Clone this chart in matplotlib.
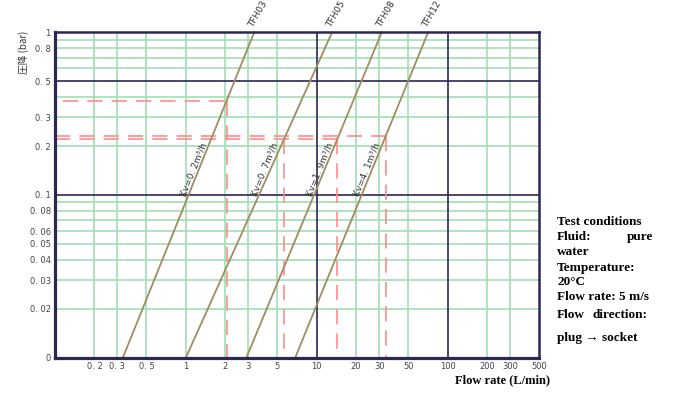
import matplotlib
matplotlib.use("Agg")
import matplotlib.pyplot as plt
import numpy as np

plt.rcParams['font.family'] = ['Noto Sans CJK JP', 'DejaVu Sans']
plt.rcParams['lines.scale_dashes'] = False

# ---- data ----
models = ["TFH03", "TFH05", "TFH08", "TFH12"]
kv_labels = ["Kv=0. 2m³/h", "Kv=0. 7m³/h", "Kv=1. 9m³/h", "Kv=4. 1m³/h"]
flow_at_min_dp = [0.33, 1.0, 2.9, 6.85]      # L/min at 0.01 bar
flow_at_max_dp = [3.33, 13.1, 31.4, 71.0]    # L/min at 1 bar
dp_range = [0.01, 1.0]

# dashed read-off guides: (start flow, flow at intersection, pressure drop)
guide_start = [0.116, 0.1, 0.1]
guide_flows = [[2.05], [5.65, 14.4], [33.8]]
guide_dp = [0.38, 0.222, 0.232]

x_ticks = [0.2, 0.3, 0.5, 1, 2, 3, 5, 10, 20, 30, 50, 100, 200, 300, 500]
x_tick_labels = ["0. 2", "0. 3", "0. 5", "1", "2", "3", "5", "10", "20", "30", "50",
                 "100", "200", "300", "500"]
y_ticks = [0.01, 0.02, 0.03, 0.04, 0.05, 0.06, 0.08, 0.1, 0.2, 0.3, 0.5, 0.8, 1]
y_tick_labels = ["0", "0. 02", "0. 03", "0. 04", "0. 05", "0. 06", "0. 08", "0. 1",
                 "0. 2", "0. 3", "0. 5", "0. 8", "1"]
x_grid_green = [0.2, 0.3, 0.5, 1, 2, 3, 5, 20, 30, 50, 200, 300]
x_grid_dark = [10, 100]
y_grid_green = [0.02, 0.03, 0.04, 0.05, 0.06, 0.07, 0.08, 0.09,
                0.2, 0.3, 0.4, 0.6, 0.7, 0.8, 0.9]
y_grid_dark = [0.1, 0.5]

green = '#a3deb4'
dark = '#2d2852'
brown = '#a08c62'
red = '#ff8888'

fig = plt.figure(figsize=(6.92, 3.96), dpi=100)
W, H = 692, 396
ax = fig.add_axes([55 / W, 1 - 357.7 / H, (539 - 55) / W, (357.7 - 32.3) / H])
ax.set_xscale('log')
ax.set_yscale('log')
ax.set_xlim(0.1, 500)
ax.set_ylim(0.01, 1)

for v in x_grid_green:
    ax.axvline(v, color=green, lw=1.2, zorder=1)
for v in y_grid_green:
    ax.axhline(v, color=green, lw=1.2, zorder=1)
for v in x_grid_dark:
    ax.axvline(v, color=dark, lw=1.2, zorder=2)
for v in y_grid_dark:
    ax.axhline(v, color=dark, lw=1.2, zorder=2)

# dashed guides
for xs, qs, dp in zip(guide_start, guide_flows, guide_dp):
    ax.plot([xs, max(qs)], [dp, dp], color=red, lw=1.3,
            linestyle=(0, (11, 6.5)), zorder=3, alpha=0.9)
    for q in qs:
        ax.plot([q, q], [dp, dp_range[0]], color=red, lw=1.3,
                linestyle=(0, (11, 6.5)), zorder=3, alpha=0.9)

# flow characteristic lines
for name, kv, q0, q1 in zip(models, kv_labels, flow_at_min_dp, flow_at_max_dp):
    ax.plot([q0, q1], dp_range, color=brown, lw=1.3, zorder=4, clip_on=False)
    ax.annotate(name, xy=(q1, dp_range[1]), xytext=(1, 3), textcoords='offset pixels',
                rotation=60, rotation_mode='anchor', ha='left', va='bottom',
                fontsize=6.5, color='#333333', family=['DejaVu Sans'])
    # label position on the line at 0.143 bar
    p = 0.143
    f = (np.log10(p) - np.log10(dp_range[0])) / (np.log10(dp_range[1]) - np.log10(dp_range[0]))
    q = 10 ** (np.log10(q0) + f * (np.log10(q1) - np.log10(q0)))
    ax.annotate(kv, xy=(q, p), xytext=(-5, 0), textcoords='offset pixels',
                rotation=68, rotation_mode='anchor', ha='center', va='center',
                fontsize=6.5, color='#333333', family=['DejaVu Sans'])

ax.set_xticks(x_ticks)
ax.set_xticklabels(x_tick_labels)
ax.set_yticks(y_ticks)
ax.set_yticklabels(y_tick_labels)
ax.minorticks_off()
ax.tick_params(length=0, labelsize=6, labelcolor='#444444', pad=3)
for lab in ax.get_xticklabels() + ax.get_yticklabels():
    lab.set_family(['DejaVu Sans'])

for s in ['left', 'bottom']:
    ax.spines[s].set_linewidth(2.3)
    ax.spines[s].set_color(dark)
for s in ['top', 'right']:
    ax.spines[s].set_linewidth(1.8)
    ax.spines[s].set_color(dark)
for s in ax.spines.values():
    s.set_zorder(6)

fig.text(24 / W, 1 - 52 / H, '圧降 (bar)', rotation=90, ha='center', va='center',
         fontsize=7, color='#333333')

fig.text(502 / W, 1 - 380 / H, 'Flow rate (L/min)', ha='center', va='center',
         fontsize=9, fontweight='bold', family=['Liberation Serif'])

serif = dict(fontsize=9.5, fontweight='bold', family=['Liberation Serif', 'DejaVu Serif'],
             va='center')
x0 = 557 / W
fig.text(x0, 1 - 222 / H, 'Test conditions', ha='left', **serif)
fig.text(x0, 1 - 237 / H, 'Fluid:', ha='left', **serif)
fig.text(653 / W, 1 - 237 / H, 'pure', ha='right', **serif)
fig.text(x0, 1 - 252 / H, 'water', ha='left', **serif)
fig.text(x0, 1 - 268 / H, 'Temperature:', ha='left', **serif)
fig.text(x0, 1 - 282 / H, '20°C', ha='left', **serif)
fig.text(x0, 1 - 297 / H, 'Flow rate: 5 m/s', ha='left', **serif)
fig.text(x0, 1 - 315 / H, 'Flow', ha='left', **serif)
fig.text(647 / W, 1 - 315 / H, 'direction:', ha='right', **serif)
fig.text(x0, 1 - 338 / H, 'plug → socket', ha='left', **serif)

fig.savefig('out.png', dpi=100)
